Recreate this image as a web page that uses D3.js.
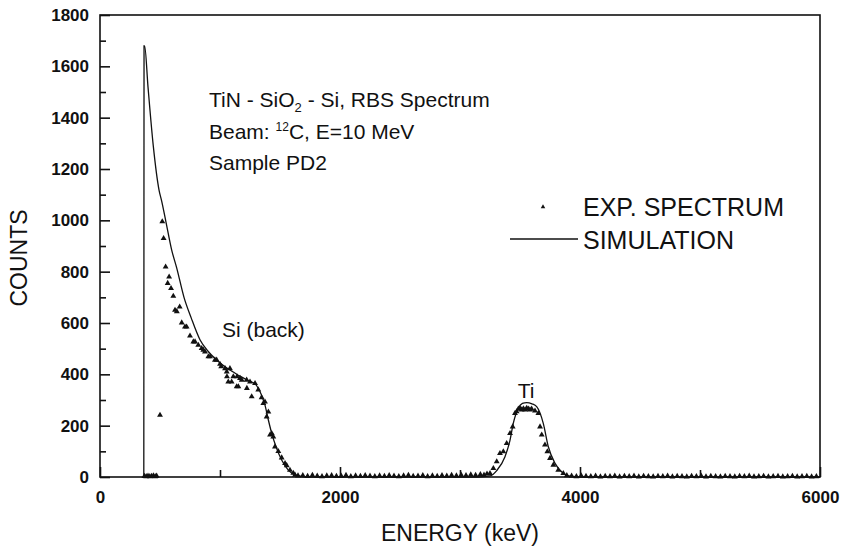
<!DOCTYPE html>
<html>
<head>
<meta charset="utf-8">
<script src="https://cdn.jsdelivr.net/npm/d3@7"></script>
<style>
    body { margin: 0; background: #fff; }
    svg text { font-family: "Liberation Sans", Arial, sans-serif; fill: #111; }
</style>
</head>
<body>
<div id="graph-01"></div>
<script>
(function(){
    // data ----------------------------------------------------------------
    var xTicks      = [0, 2000, 4000, 6000],
        xMinorTicks = [1000, 3000, 5000],
        yTicks      = [0, 200, 400, 600, 800, 1000, 1200, 1400, 1600, 1800],
        yMinorTicks = [100, 300, 500, 700, 900, 1100, 1300, 1500, 1700];

    // simulation curve [energy keV, counts]
    var simulation = [
        [365,0],[367,1680],[372,1680],[400,1520],[444,1290],[492,1118],[514,1075],
        [547,1000],[597,885],[639,815],[700,700],[760,620],[833,535],[900,490],
        [972,456],[1040,430],[1111,409],[1170,392],[1222,379],[1265,370],[1295,362],
        [1320,345],[1345,320],[1375,280],[1403,222],[1431,170],[1467,118],[1514,66],
        [1569,27],[1625,8],[1680,2],[1750,0],[3150,0],[3250,4],[3306,25],[3375,79],
        [3417,144],[3444,209],[3486,268],[3520,287],[3556,290],[3600,285],[3639,274],
        [3694,209],[3736,118],[3792,53],[3861,14],[3917,3],[4000,0],[6000,0]
    ];

    // experimental spectrum [energy keV, counts]
    var experiment = [
        [370,3],[385,2],[400,4],[415,2],[430,3],[445,5],[460,2],[472,4],[500,241],
        [519,995],[530,930],[547,819],[564,755],[576,780],[592,735],[611,705],[625,650],
        [640,645],[664,663],[681,601],[708,585],[722,585],[750,550],[778,527],[792,527],
        [819,514],[847,501],[861,495],[875,488],[903,469],[917,469],[958,456],[972,456],
        [1000,440],[1010,430],[1042,423],[1056,410],[1058,391],[1069,371],[1083,423],
        [1097,371],[1111,391],[1139,352],[1142,391],[1153,352],[1167,385],[1181,378],
        [1222,378],[1224,346],[1250,371],[1264,313],[1292,365],[1319,340],[1347,310],
        [1361,287],[1375,293],[1389,235],[1403,254],[1417,164],[1431,170],[1444,157],
        [1458,118],[1486,100],[1514,75],[1542,53],[1556,45],[1583,27],[1611,15],
        [1625,8],[1650,5],[1690,6],[1730,3],[1770,7],[1810,4],[1850,2],[1890,5],
        [1930,6],[1970,3],[2010,4],[2050,7],[2090,2],[2130,5],[2170,3],[2210,6],
        [2250,4],[2290,2],[2330,5],[2370,3],[2410,6],[2450,4],[2490,2],[2530,5],
        [2570,7],[2610,3],[2650,4],[2690,6],[2730,2],[2770,5],[2810,3],[2850,6],
        [2890,4],[2930,7],[2970,5],[3010,8],[3050,6],[3090,9],[3130,7],[3170,10],
        [3200,8],[3225,12],[3250,14],[3278,34],[3306,60],[3333,92],[3361,99],[3389,131],
        [3417,170],[3439,196],[3458,248],[3472,255],[3486,265],[3500,268],[3514,262],
        [3528,266],[3542,262],[3556,268],[3570,265],[3583,262],[3597,265],[3625,258],
        [3653,248],[3667,196],[3681,164],[3708,125],[3728,99],[3750,73],[3778,47],
        [3819,27],[3861,14],[3890,6],[3930,4],[3970,2],[4010,5],[4050,3],[4090,2],
        [4130,4],[4170,1],[4210,3],[4250,2],[4290,4],[4330,1],[4370,3],[4410,2],
        [4450,4],[4490,1],[4530,3],[4570,2],[4610,1],[4650,3],[4690,2],[4730,4],
        [4770,1],[4810,3],[4850,2],[4890,1],[4930,3],[4970,2],[5010,4],[5050,1],
        [5090,3],[5130,2],[5170,1],[5210,3],[5250,2],[5290,1],[5330,3],[5370,2],
        [5410,4],[5450,1],[5490,2],[5530,3],[5570,1],[5610,2],[5650,3],[5690,1],
        [5730,2],[5770,3],[5810,1],[5850,2],[5890,3],[5930,1],[5970,2]
    ];

    var WIDTH  = 843,
        HEIGHT = 549,
        LEFT   = 100,
        RIGHT  = 820,
        TOP    = 15,
        BOTTOM = 477;

    var svg, x, y;

    // MAIN ================================================================
    svg = d3.select('div#graph-01')
            .append('svg')
            .attr('width', WIDTH)
            .attr('height', HEIGHT);

    x = d3.scaleLinear().domain([0, 6000]).range([LEFT, RIGHT]);
    y = d3.scaleLinear().domain([0, 1800]).range([BOTTOM, TOP]);

    drawAxes();
    drawSimulation();
    drawExperiment();
    drawTexts();
    drawLegend();
    // =====================================================================

    function drawAxes(){
        // minor ticks first, inward
        svg.append('g')
            .attr('transform', 'translate(0,' + BOTTOM + ')')
            .call(d3.axisBottom(x).tickValues(xMinorTicks).tickSize(-7).tickFormat(''))
            .call(cleanAxis);

        svg.append('g')
            .attr('transform', 'translate(' + LEFT + ',0)')
            .call(d3.axisLeft(y).tickValues(yMinorTicks).tickSize(-6).tickFormat(''))
            .call(cleanAxis);

        // major ticks with labels
        svg.append('g')
            .attr('transform', 'translate(0,' + BOTTOM + ')')
            .call(d3.axisBottom(x).tickValues(xTicks).tickSize(-10).tickPadding(14).tickFormat(d3.format('d')))
            .call(cleanAxis)
            .selectAll('text')
            .style('font-size', '17px')
            .style('font-weight', 'bold');

        svg.append('g')
            .attr('transform', 'translate(' + LEFT + ',0)')
            .call(d3.axisLeft(y).tickValues(yTicks).tickSize(-10).tickPadding(11).tickFormat(d3.format('d')))
            .call(cleanAxis)
            .selectAll('text')
            .style('font-size', '17px')
            .style('font-weight', 'bold');

        // frame
        svg.append('rect')
            .attr('x', LEFT)
            .attr('y', TOP)
            .attr('width', RIGHT - LEFT)
            .attr('height', BOTTOM - TOP)
            .attr('fill', 'none')
            .attr('stroke', '#111')
            .attr('stroke-width', 1.6);

        // axis titles
        svg.append('text')
            .attr('x', (LEFT + RIGHT) / 2)
            .attr('y', 541)
            .attr('text-anchor', 'middle')
            .style('font-size', '23px')
            .text('ENERGY (keV)');

        svg.append('text')
            .attr('transform', 'translate(27,258) rotate(-90)')
            .attr('text-anchor', 'middle')
            .style('font-size', '23px')
            .text('COUNTS');
    }

    function cleanAxis(g){
        g.select('.domain').remove();
        g.selectAll('.tick line').attr('stroke', '#111').attr('stroke-width', 1.6);
        g.selectAll('.tick text').attr('fill', '#111');
    }

    function drawSimulation(){
        var line = d3.line()
            .x(function(d){ return x(d[0]) })
            .y(function(d){ return y(d[1]) })
            .curve(d3.curveMonotoneX);

        svg.append('path')
            .datum(simulation)
            .attr('class', 'simulation')
            .attr('d', line)
            .attr('fill', 'none')
            .attr('stroke', '#111')
            .attr('stroke-width', 1.3);
    }

    function drawExperiment(){
        var tri = d3.symbol().type(d3.symbolTriangle).size(15);

        svg.append('g').attr('class', 'experiment')
            .selectAll('path')
            .data(experiment)
            .enter().append('path')
            .attr('d', tri)
            .attr('transform', function(d){ return 'translate(' + x(d[0]) + ',' + y(d[1]) + ')' })
            .attr('fill', '#111');
    }

    function drawTexts(){
        var t1 = svg.append('text').attr('x', 209).attr('y', 107).style('font-size', '21px');
        t1.append('tspan').text('TiN - SiO');
        t1.append('tspan').attr('dy', 5).style('font-size', '13px').text('2');
        t1.append('tspan').attr('dy', -5).text(' - Si, RBS Spectrum');

        var t2 = svg.append('text').attr('x', 209).attr('y', 139).style('font-size', '21px');
        t2.append('tspan').text('Beam: ');
        t2.append('tspan').attr('dy', -8).style('font-size', '12px').text('12');
        t2.append('tspan').attr('dy', 8).text('C, E=10 MeV');

        svg.append('text').attr('x', 209).attr('y', 170).style('font-size', '21px').text('Sample PD2');

        svg.append('text').attr('x', 222).attr('y', 337).style('font-size', '21px').text('Si (back)');

        svg.append('text').attr('x', 526).attr('y', 398)
            .attr('text-anchor', 'middle')
            .style('font-size', '21px').text('Ti');
    }

    function drawLegend(){
        svg.append('path')
            .attr('d', d3.symbol().type(d3.symbolTriangle).size(9))
            .attr('transform', 'translate(543,207)')
            .attr('fill', '#111');

        svg.append('text').attr('x', 583).attr('y', 216).style('font-size', '25px').text('EXP. SPECTRUM');

        svg.append('line')
            .attr('x1', 510).attr('x2', 578)
            .attr('y1', 239).attr('y2', 239)
            .attr('stroke', '#111').attr('stroke-width', 1.3);

        svg.append('text').attr('x', 583).attr('y', 249).style('font-size', '25px').text('SIMULATION');
    }

})();
</script>
</body>
</html>
